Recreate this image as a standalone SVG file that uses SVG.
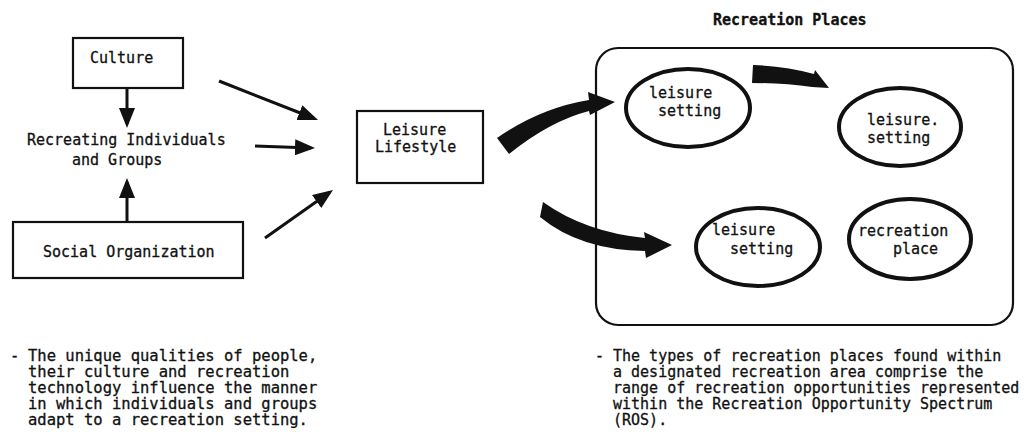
<svg xmlns="http://www.w3.org/2000/svg" width="1024" height="439" viewBox="0 0 1024 439">
<style>
text{font-family:"DejaVu Sans Mono","Liberation Mono",monospace;font-size:15px;fill:#111;stroke:#111;stroke-width:0.3}
.t{font-weight:bold}
.note{font-size:15.5px}
.box{fill:#fff;stroke:#111;stroke-width:2.2}
.ell{fill:#fff;stroke:#111;stroke-width:4}
.ar{stroke:#111;stroke-width:3;fill:none;marker-end:url(#ah)}
.thick{fill:#111;stroke:none}
</style>
<defs>
<marker id="ah" viewBox="0 0 20 16" refX="16" refY="8" markerWidth="20" markerHeight="16" markerUnits="userSpaceOnUse" orient="auto">
<path d="M0,0 L20,8 L0,16 z" fill="#111"/>
</marker>
</defs>
<rect width="1024" height="439" fill="#fff"/>

<g id="culture">
<rect class="box" x="73" y="38" width="110" height="50"/>
<text x="90" y="63">Culture</text>
</g>
<g id="recreating-individuals">
<text x="27" y="145">Recreating Individuals</text>
<text x="72" y="165">and Groups</text>
</g>
<g id="social-organization">
<rect class="box" x="13" y="222" width="230" height="56"/>
<text x="43" y="257">Social Organization</text>
</g>
<g id="leisure-lifestyle">
<rect class="box" x="357" y="111" width="126" height="72"/>
<text x="383" y="135">Leisure</text>
<text x="375" y="152">Lifestyle</text>
</g>
<g id="recreation-places">
<text class="t" x="713" y="25">Recreation Places</text>
<rect class="box" x="596" y="48" width="417" height="277" rx="22" ry="22"/>
</g>
<g id="setting-1">
<ellipse class="ell" cx="688" cy="108" rx="62" ry="39"/>
<text x="649" y="98">leisure</text>
<text x="658" y="116">setting</text>
</g>
<g id="setting-2">
<ellipse class="ell" cx="900" cy="127" rx="61" ry="39"/>
<text x="867" y="125">leisure.</text>
<text x="867" y="143">setting</text>
</g>
<g id="setting-3">
<ellipse class="ell" cx="758" cy="247" rx="62" ry="39"/>
<text x="712" y="235">leisure</text>
<text x="730" y="254">setting</text>
</g>
<g id="recreation-place">
<ellipse class="ell" cx="910" cy="239" rx="61" ry="40"/>
<text x="858" y="236">recreation</text>
<text x="893" y="254">place</text>
</g>

<g id="connectors">
<line class="ar" x1="127" y1="88" x2="127" y2="124"/>
<line class="ar" x1="127" y1="222" x2="127" y2="182"/>
<line class="ar" x1="219" y1="81" x2="314.3" y2="118.5"/>
<line class="ar" x1="255" y1="146" x2="311" y2="147.9"/>
<line class="ar" x1="265" y1="238" x2="329.7" y2="192.3"/>
<path class="thick" d="M497,138 Q540,108 589,100 L588,92 L615,102 L590,115 L589,111 Q550,121 509,154 Z"/>
<path class="thick" d="M543,202 Q585,232 645,238 L644,232 L672,245 L646,258 L645,251 Q580,250 540,217 Z"/>
<path class="thick" d="M753,65 Q786,66 814,74 L815,70 L829,88 L812,87 Q785,83 752,83 Z"/>
</g>

<g id="note-left">
<text class="note" x="10" y="361">-</text>
<text class="note" x="28" y="361">The unique qualities of people,</text>
<text class="note" x="28" y="377">their culture and recreation</text>
<text class="note" x="28" y="393">technology influence the manner</text>
<text class="note" x="28" y="409">in which individuals and groups</text>
<text class="note" x="28" y="425">adapt to a recreation setting.</text>
</g>
<g id="note-right">
<text x="595" y="361">-</text>
<text x="613" y="361">The types of recreation places found within</text>
<text x="613" y="377">a designated recreation area comprise the</text>
<text x="613" y="393">range of recreation opportunities represented</text>
<text x="613" y="409">within the Recreation Opportunity Spectrum</text>
<text x="613" y="425">(ROS).</text>
</g>
</svg>
